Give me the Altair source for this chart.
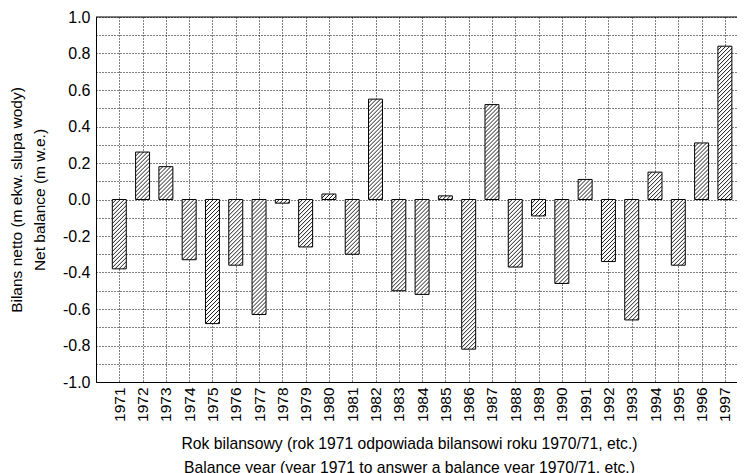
import altair as alt
from urllib.parse import quote

# ---- data ----
years = list(range(1971, 1998))
balance = [-0.38, 0.26, 0.18, -0.33, -0.68, -0.36, -0.63, -0.02, -0.26, 0.03,
           -0.30, 0.55, -0.50, -0.52, 0.02, -0.82, 0.52, -0.37, -0.09, -0.46,
           0.11, -0.34, -0.66, 0.15, -0.36, 0.31, 0.84]
y_ticks = [round(-1.0 + 0.1 * i, 1) for i in range(21)]
y_title = ["Bilans netto (m ekw. slupa wody)", "Net balance (m w.e.)"]
x_title = ["Rok bilansowy (rok 1971 odpowiada bilansowi roku 1970/71, etc.)",
           "Balance year (year 1971 to answer a balance year 1970/71, etc.)"]

# ---- style ----
PLOT_W, PLOT_H = 641, 365       # svg = 88 + 641 = 729 px, the page's content width
X_DOMAIN = [1970, 1997.52]      # the frame runs on past the right edge of the window
HALF_BAR = 0.3                  # half bar width, in years
FONT = "Liberation Sans"

# diagonal '///' hatch: one long path of parallel lines, drawn 1:1 inside each bar
# box (no viewBox, so it is clipped rather than scaled); antialiased so that it
# looks the same whatever the sub-pixel position of the bar
hatch_path = " ".join(f"M{4 * k},0 L{4 * k - 420},420" for k in range(0, 110))
hatch_svg = (
    "<svg xmlns='http://www.w3.org/2000/svg' width='100%' height='100%'>"
    "<rect width='100%' height='100%' fill='white'/>"
    f"<path d='{hatch_path}' stroke='black' stroke-width='0.9' fill='none'/></svg>"
)
hatch_url = "data:image/svg+xml;charset=utf-8," + quote(hatch_svg)

records = [{"year": y, "value": v} for y, v in zip(years, balance)]

y_label_expr = ("abs(round(datum.value*10)) % 2 == 0 ? "
                "replace(format(datum.value, '.1f'), '\u2212', '-') : ''")

X = alt.X("x0:Q",
          scale=alt.Scale(domain=X_DOMAIN, nice=False, zero=False, padding=0),
          axis=alt.Axis(values=years, tickCount=40, format="d", labelAngle=270,
                        labelFontSize=15.5, labelPadding=5, labelOverlap=False,
                        labelFlush=False, grid=True, gridDash=[1, 2],
                        gridColor="black", gridOpacity=1, ticks=False,
                        domain=True, domainColor="black",
                        title=x_title, titleFontSize=15.7,
                        titleFontWeight="normal", titleX=313, titleY=61,
                        titleAlign="center", titleBaseline="middle",
                        titleLineHeight=24))
Y = alt.Y("value:Q",
          scale=alt.Scale(domain=[-1, 1], nice=False, zero=False, padding=0),
          axis=alt.Axis(values=y_ticks, tickCount=40, labelExpr=y_label_expr,
                        labelFontSize=16, labelPadding=6, labelOverlap=False,
                        labelFlush=False, grid=True, gridDash=[1, 2],
                        gridColor="black", gridOpacity=1, ticks=False,
                        domain=True, domainColor="black",
                        title=y_title, titleFontSize=15.5,
                        titleFontWeight="normal", titleAngle=270,
                        titleX=-80, titleY=182.5, titleAlign="center",
                        titleBaseline="middle", titleLineHeight=23))

base = alt.Chart(alt.Data(values=records)).transform_calculate(
    x0=f"datum.year - {HALF_BAR}", x1=f"datum.year + {HALF_BAR}"
)

hatch = base.mark_image(aspect=False).encode(
    x=X, x2="x1:Q", y=Y, y2=alt.datum(0), url=alt.value(hatch_url)
)
outline = base.mark_rect(fillOpacity=0, stroke="black", strokeWidth=1).encode(
    x=X, x2="x1:Q", y=Y, y2=alt.datum(0)
)
top_border = alt.Chart(alt.Data(values=[{}])).mark_rule(
    color="black", strokeWidth=1
).encode(y=alt.datum(1.0))

chart = alt.layer(hatch, outline, top_border).properties(
    width=PLOT_W, height=PLOT_H,
    autosize=alt.AutoSizeParams(type="none"),
    padding={"left": 88, "top": 9, "right": 0, "bottom": 91},
    background="white",
).configure_view(stroke=None).configure_axis(
    labelFont=FONT, titleFont=FONT, labelColor="black", titleColor="black"
)

chart.save("out.html", embed_options={"renderer": "svg", "actions": False})
